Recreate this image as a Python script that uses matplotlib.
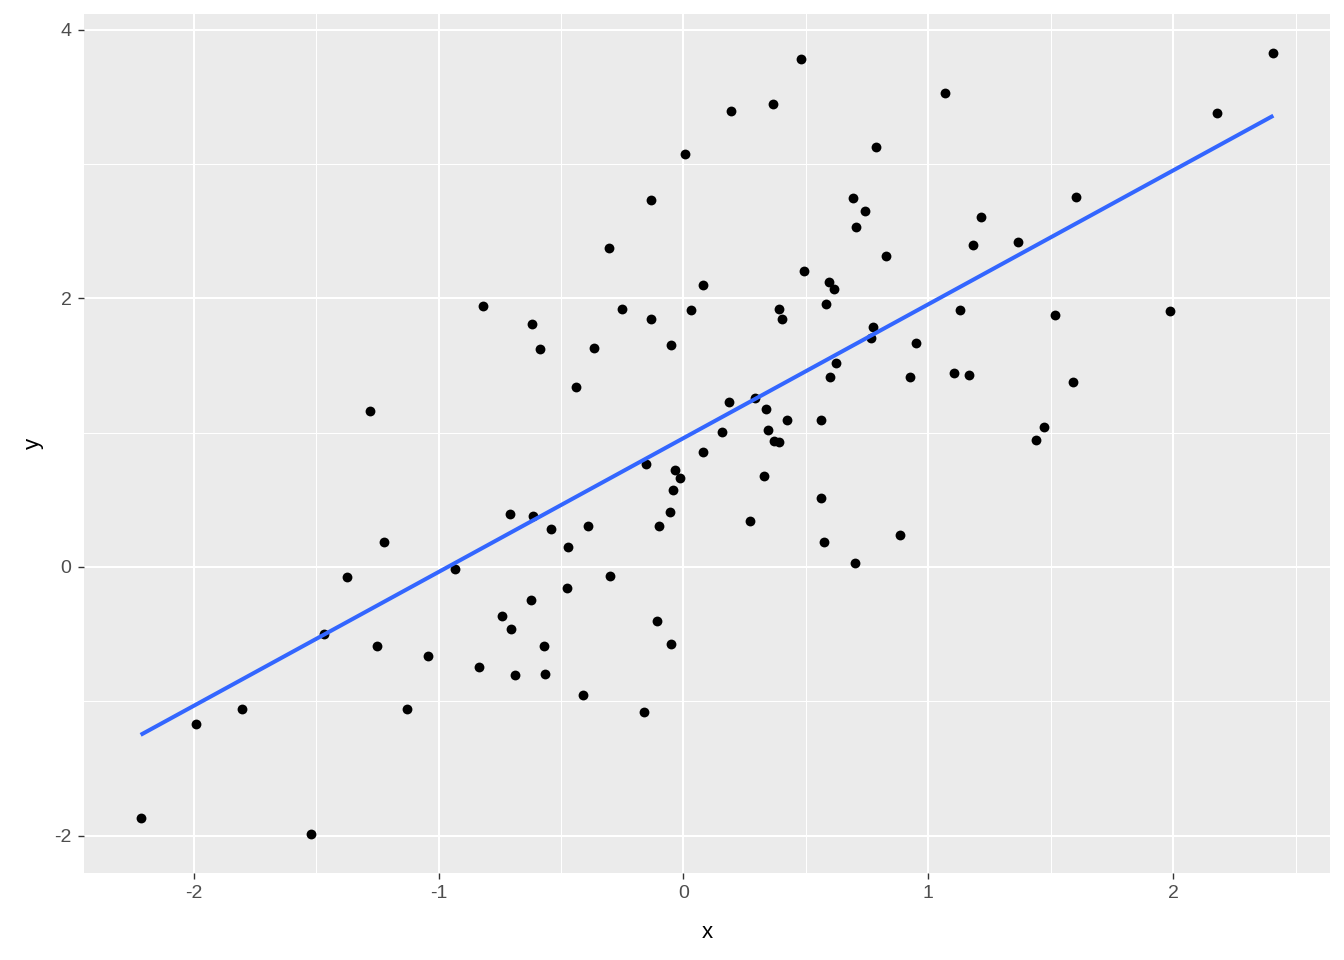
import numpy as np
import matplotlib
matplotlib.use("Agg")
import matplotlib.pyplot as plt
from matplotlib.ticker import MultipleLocator

x = [-2.217, -1.992, -1.804, -1.522, -1.469, -1.375, -1.281, -1.252, -1.224, -1.130,
     -1.044, -0.934, -0.836, -0.819, -0.742, -0.709, -0.705, -0.688, -0.623, -0.619,
     -0.615, -0.586, -0.570, -0.566, -0.541, -0.476, -0.472, -0.439, -0.411, -0.390,
     -0.366, -0.304, -0.300, -0.251, -0.161, -0.153, -0.133, -0.133, -0.108, -0.100,
     -0.055, -0.051, -0.051, -0.043, -0.035, -0.014, 0.006, 0.031, 0.080, 0.080,
     0.157, 0.186, 0.194, 0.272, 0.292, 0.329, 0.337, 0.345, 0.366, 0.370,
     0.390, 0.390, 0.402, 0.423, 0.480, 0.492, 0.562, 0.562, 0.574, 0.582,
     0.594, 0.599, 0.615, 0.623, 0.693, 0.701, 0.705, 0.742, 0.766, 0.774,
     0.787, 0.827, 0.885, 0.925, 0.950, 1.068, 1.105, 1.130, 1.166, 1.183,
     1.216, 1.367, 1.440, 1.473, 1.518, 1.591, 1.604, 1.988, 2.180, 2.409]
y = [-1.869, -1.169, -1.057, -1.988, -0.499, -0.074, 1.161, -0.588, 0.186, -1.057,
     -0.663, -0.015, -0.744, 1.943, -0.365, 0.395, -0.462, -0.804, -0.246, 1.809,
     0.380, 1.623, -0.588, -0.797, 0.283, -0.156, 0.149, 1.340, -0.953, 0.305,
     1.630, 2.375, -0.067, 1.921, -1.079, 0.767, 2.732, 1.846, -0.402, 0.305,
     0.409, 1.653, -0.573, 0.573, 0.722, 0.663, 3.075, 1.913, 2.099, 0.856,
     1.005, 1.228, 3.395, 0.342, 1.258, 0.677, 1.176, 1.020, 3.447, 0.938,
     0.931, 1.921, 1.846, 1.094, 3.782, 2.204, 1.094, 0.514, 0.186, 1.958,
     2.122, 1.414, 2.070, 1.519, 2.747, 0.030, 2.531, 2.650, 1.705, 1.787,
     3.127, 2.315, 0.238, 1.414, 1.668, 3.529, 1.444, 1.913, 1.429, 2.397,
     2.606, 2.419, 0.945, 1.042, 1.876, 1.377, 2.754, 1.906, 3.380, 3.826]

x_ticks = [-2, -1, 0, 1, 2]
y_ticks = [-2, 0, 2, 4]

x = np.array(x)
y = np.array(y)

plt.rcParams['font.family'] = ['Liberation Sans', 'DejaVu Sans']
plt.rcParams['axes.unicode_minus'] = False

fig = plt.figure(figsize=(13.44, 9.6), dpi=100)
ax = fig.add_axes([84/1344, 1 - 873/960, (1330 - 84)/1344, (873 - 14)/960])
ax.set_facecolor('#EBEBEB')

# limits with 5% expansion like ggplot
xr = x.max() - x.min()
yr = y.max() - y.min()
ax.set_xlim(x.min() - 0.05 * xr, x.max() + 0.05 * xr)
ax.set_ylim(y.min() - 0.05 * yr, y.max() + 0.05 * yr)

ax.set_xticks(x_ticks)
ax.set_yticks(y_ticks)
ax.xaxis.set_minor_locator(MultipleLocator(0.5))
ax.yaxis.set_minor_locator(MultipleLocator(1))
ax.grid(which='major', color='white', linewidth=1.5)
ax.grid(which='minor', color='white', linewidth=0.75)
ax.set_axisbelow(True)
for s in ax.spines.values():
    s.set_visible(False)
ax.tick_params(which='minor', length=0)
ax.tick_params(which='major', length=4, width=1.0, color='#333333',
               labelcolor='#4D4D4D', labelsize=14, pad=5)

ax.scatter(x, y, s=50, color='black', zorder=3, linewidths=0)

# linear fit (geom_smooth method = lm, se = FALSE)
slope, intercept = np.polyfit(x, y, 1)
xs = np.array([x.min(), x.max()])
ax.plot(xs, intercept + slope * xs, color='#3366FF', linewidth=2.9, zorder=4,
        solid_capstyle='butt')

ax.set_xlabel('x', fontsize=16, color='black', labelpad=14)
ax.set_ylabel('y', fontsize=16, color='black', labelpad=7)

fig.savefig('out.png', dpi=100, facecolor='white')
